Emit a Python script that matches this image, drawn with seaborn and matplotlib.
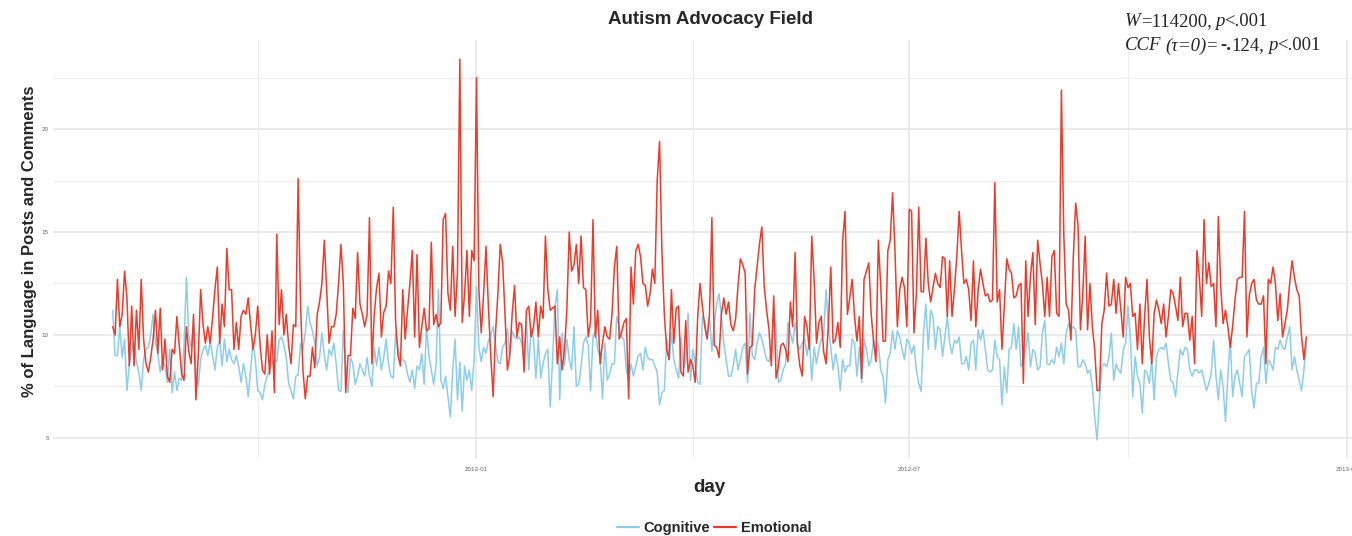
import pandas as pd
import matplotlib
matplotlib.use("Agg")
import matplotlib.pyplot as plt
import matplotlib.dates as mdates
import seaborn as sns

# daily values (% of language), starting 2011-08-01
start_day = "2011-08-01"

cognitive = [
    11.2, 9.0, 9.0, 10.4, 8.9, 9.8, 7.3, 8.6, 9.3, 9.6,
    8.7, 8.2, 7.3, 8.8, 9.3, 9.4, 10.0, 11.0, 9.6, 9.1,
    8.2, 8.8, 8.5, 7.7, 9.3, 7.2, 8.2, 7.3, 7.9, 7.8,
    9.5, 12.8, 10.0, 9.4, 10.5, 8.3, 7.5, 8.8, 9.3, 9.5,
    9.0, 9.7, 9.0, 8.3, 9.4, 9.7, 8.5, 9.8, 8.7, 9.3,
    8.8, 8.6, 9.0, 8.5, 7.7, 8.6, 8.0, 7.0, 8.3, 9.6,
    8.8, 7.3, 7.2, 6.85, 7.6, 8.0, 8.3, 8.6, 8.8, 8.7,
    9.75, 9.9, 9.5, 8.9, 7.65, 7.3, 6.9, 8.0, 8.05, 9.6,
    9.3, 10.1, 11.4, 10.6, 10.2, 9.6, 8.5, 8.9, 10.1, 9.0,
    8.3, 9.3, 9.0, 9.6, 8.6, 7.3, 7.25, 10.2, 8.5, 7.2,
    8.9, 8.6, 7.6, 8.0, 8.6, 8.3, 8.0, 8.9, 8.0, 7.5,
    9.4, 8.5, 9.4, 8.3, 8.9, 9.8, 8.6, 8.0, 7.9, 10.1,
    9.4, 8.9, 8.8, 8.7, 8.1, 7.7, 8.3, 7.4, 8.5,
    8.3, 9.1, 7.6, 10.4, 9.0, 8.3, 7.6, 8.5, 12.2, 7.8,
    7.4, 8.0, 7.0, 6.0, 8.3, 9.8, 6.85, 8.7, 6.3, 8.5,
    7.8, 8.3, 7.3, 8.8, 12.35, 9.4, 8.7, 9.4, 9.1, 9.7,
    10.0, 10.4, 9.5, 8.7, 8.6, 9.4, 9.6, 10.3, 9.0, 10.2,
    9.9, 9.8, 9.9, 9.6, 8.8, 10.7, 8.3, 10.4, 9.8, 7.9,
    9.8, 7.9, 8.6, 9.1, 9.3, 6.5, 8.8, 11.4, 12.2, 6.85,
    10.1, 8.5, 9.8, 8.8, 8.3, 10.4, 7.5, 7.6, 8.5, 9.6,
    9.9, 9.5, 7.3, 9.9, 10.2, 9.3, 8.9, 6.9, 9.6, 7.8,
    8.1, 8.6, 8.6, 10.9, 10.4, 9.9, 9.8, 8.3, 7.8, 8.6,
    8.0, 8.5, 9.0, 9.1, 8.3, 9.4, 8.9, 8.8, 8.8, 8.5,
    8.2, 6.6, 7.2, 7.3, 9.8, 8.8, 10.1, 8.8, 8.3, 7.9,
    9.9, 8.4, 8.7, 11.05, 7.8, 9.3, 8.6, 7.7, 7.6, 10.9,
    10.7, 9.8, 10.9, 9.2, 10.5, 11.5, 12.0, 10.9, 9.6,
    8.8, 8.0, 8.0, 8.5, 9.3, 8.3, 8.8, 9.4, 9.6, 7.7,
    11.05, 9.0, 8.8, 9.6, 10.1, 9.8, 9.3, 8.8, 8.7, 9.3,
    11.0, 10.3, 7.7, 7.8, 8.3, 8.6, 10.6, 10.1, 9.6, 10.6,
    9.6, 9.3, 9.6, 9.8, 9.0, 9.8, 7.8, 9.4, 8.6, 9.3,
    9.8, 10.0, 12.2, 10.4, 9.4, 8.3, 9.1, 8.5, 7.3, 8.8,
    8.2, 8.5, 8.5, 9.8, 9.6, 8.0, 9.4, 7.7, 9.8, 9.3,
    8.5, 8.8, 9.8, 9.0, 9.6, 8.3, 8.0, 6.7, 8.8, 9.1,
    10.2, 9.3, 10.2, 9.9, 9.3, 8.8, 9.8, 9.6, 9.1, 9.5,
    8.3, 7.65, 7.25, 10.1, 11.5, 9.3, 11.2, 10.9, 9.3, 10.4,
    10.25, 8.95, 9.9, 10.9, 9.6, 9.1, 9.75, 9.6, 9.9, 8.6,
    8.6, 8.95, 8.3, 9.6, 9.75, 8.3, 10.25, 9.75, 10.25, 9.3,
    8.3, 8.2, 8.3, 9.75, 8.95, 8.8, 6.6, 8.45, 7.2, 9.3,
    9.4, 10.55, 9.3, 10.4, 8.45, 8.8, 9.3, 10.1, 8.45,
    9.3, 9.1, 8.3, 8.45, 10.1, 10.7, 8.6, 8.55, 8.8, 8.6,
    9.4, 8.95, 9.6, 8.6, 10.1, 10.55, 10.25, 10.4, 10.25, 8.45,
    8.45, 8.8, 8.6, 8.15, 8.3, 7.5, 6.0, 4.9, 6.85, 8.45,
    8.6, 8.45, 8.95, 10.1, 7.8, 8.6, 8.3, 8.15, 9.3, 9.6,
    11.4, 9.9, 7.0, 8.95, 8.0, 7.65, 6.2, 8.3, 8.15, 7.65,
    8.8, 6.85, 8.95, 9.3, 9.4, 9.3, 9.6, 8.6, 7.8, 7.65,
    7.0, 8.2, 9.3, 9.0, 9.4, 9.3, 8.3, 8.0, 8.3, 8.3,
    8.15, 8.3, 7.8, 7.3, 7.65, 8.15, 9.75, 8.0, 6.85, 8.3,
    7.5, 5.8, 8.0, 9.9, 7.0, 8.0, 8.3, 7.65, 7.0,
    8.95, 9.1, 9.3, 7.3, 6.45, 7.65, 7.65, 8.95, 9.4, 7.65,
    8.8, 8.6, 8.3, 9.4, 9.3, 9.75, 9.4, 9.3, 9.9, 10.4,
    8.3, 8.95, 8.3, 7.8, 7.3, 8.3, 9.6,
]

emotional = [
    10.4, 10.0, 12.7, 10.4, 11.0, 13.1, 11.8, 8.5, 11.4, 8.5,
    11.2, 9.3, 12.7, 9.8, 8.6, 8.2, 8.9, 9.8, 11.2, 9.1,
    11.3, 8.3, 9.8, 8.0, 7.7, 9.3, 9.1, 10.9, 9.5, 8.1,
    7.8, 10.4, 9.2, 8.6, 11.0, 6.85, 9.0, 12.2, 10.5, 9.6,
    10.4, 9.6, 10.8, 12.2, 13.3, 9.6, 11.5, 10.4, 14.2, 12.2,
    12.2, 9.3, 10.6, 9.3, 10.9, 11.2, 11.0, 11.8, 10.5, 9.3,
    10.0, 11.4, 9.5, 8.3, 8.1, 10.0, 8.1, 10.2, 7.2, 14.9,
    10.5, 12.2, 10.0, 11.0, 9.5, 8.6, 10.5, 10.4, 17.6, 11.5,
    8.3, 6.9, 8.0, 8.0, 9.4, 8.4, 11.0, 11.6, 12.5, 14.6,
    12.2, 9.6, 10.4, 10.4, 11.0, 12.5, 14.4, 12.5, 7.2, 9.0,
    9.0, 11.3, 10.8, 14.0, 11.5, 11.0, 10.4, 11.0, 15.7, 8.6,
    11.0, 12.3, 13.0, 9.9, 11.1, 11.4, 13.1, 12.5, 16.2, 10.6,
    9.0, 8.5, 12.2, 9.8, 11.2, 12.5, 14.1, 9.9, 13.9,
    9.4, 10.4, 11.3, 10.2, 10.3, 14.5, 10.5, 11.0, 10.4, 10.6,
    15.6, 15.9, 12.0, 11.2, 14.3, 10.9, 13.0, 23.4, 10.6, 12.0,
    14.1, 10.9, 14.1, 13.6, 22.5, 12.2, 10.1, 12.0, 14.3, 11.4,
    9.0, 7.0, 10.1, 12.0, 14.4, 13.5, 11.0, 8.3, 9.0, 11.0,
    12.4, 9.9, 10.6, 10.5, 8.2, 11.2, 11.4, 9.9, 10.4, 11.6,
    9.9, 11.4, 10.8, 14.8, 12.2, 11.2, 11.3, 11.4, 8.6, 9.9,
    8.3, 9.3, 11.2, 15.0, 13.1, 13.4, 14.4, 12.5, 14.8, 12.3,
    12.2, 9.9, 10.7, 15.6, 9.9, 11.2, 8.6, 9.6, 10.4, 9.9,
    9.8, 11.0, 13.3, 14.3, 9.8, 10.1, 10.6, 10.8, 6.9, 13.3,
    11.5, 14.1, 14.4, 13.8, 12.5, 12.4, 11.4, 12.0, 13.2, 12.5,
    17.5, 19.4, 14.0, 11.0, 9.3, 8.8, 12.2, 9.6, 11.3, 11.4,
    8.2, 8.0, 10.7, 8.2, 8.8, 8.5, 7.7, 10.8, 12.5, 11.4,
    10.4, 9.8, 11.0, 15.7, 9.5, 9.4, 8.9, 11.0, 11.8,
    11.0, 11.6, 10.5, 10.2, 10.8, 12.4, 13.7, 13.4, 13.0, 8.1,
    9.4, 9.5, 12.2, 13.3, 14.4, 15.25, 12.4, 11.2, 10.3, 8.5,
    11.9, 7.9, 8.5, 9.5, 9.6, 9.3, 8.7, 11.6, 10.4, 14.0,
    9.5, 8.5, 8.0, 10.9, 10.4, 9.3, 14.8, 12.7, 9.6, 10.6,
    10.9, 9.2, 8.6, 10.5, 13.3, 9.6, 9.8, 10.6, 9.4, 14.6,
    16.0, 11.0, 11.8, 12.7, 10.9, 9.7, 10.9, 7.9, 12.7, 13.1,
    13.5, 11.0, 9.7, 8.7, 14.6, 12.4, 9.7, 9.7, 14.1, 14.6,
    16.9, 14.1, 10.4, 12.2, 12.8, 12.3, 10.4, 16.1, 16.0, 10.1,
    12.0, 16.2, 12.1, 12.1, 14.7, 12.5, 11.6, 12.3, 13.0, 12.5,
    12.3, 13.8, 13.7, 10.9, 13.6, 10.9, 12.2, 13.8, 16.0, 14.1,
    12.5, 12.7, 12.2, 10.7, 13.6, 10.4, 12.2, 13.2, 12.5, 11.9,
    12.0, 11.6, 11.7, 17.4, 11.6, 12.2, 9.3, 11.4, 13.7, 13.2,
    13.0, 11.8, 11.9, 12.4, 12.5, 7.65, 13.6, 10.9, 12.9,
    14.0, 10.5, 14.6, 13.5, 12.5, 10.9, 12.8, 10.9, 13.8, 14.1,
    11.05, 10.9, 21.9, 14.9, 11.5, 11.2, 9.75, 13.8, 16.4, 15.3,
    10.25, 12.0, 14.8, 10.25, 12.5, 10.4, 9.3, 7.3, 7.3, 10.55,
    11.2, 13.0, 11.4, 11.5, 12.7, 11.05, 12.5, 11.2, 9.9, 12.8,
    12.3, 12.5, 10.9, 11.05, 9.3, 11.5, 8.6, 10.9, 12.7, 9.9,
    8.6, 11.05, 11.7, 11.2, 10.55, 11.5, 9.9, 10.9, 12.2, 12.0,
    11.4, 10.7, 12.8, 10.4, 11.05, 11.05, 9.75, 10.9, 8.6, 14.1,
    12.8, 10.9, 15.6, 12.5, 13.5, 12.35, 12.5, 10.4, 15.75, 12.35,
    10.55, 11.2, 10.4, 9.4, 10.4, 11.7, 12.7, 12.8, 12.8,
    16.0, 9.9, 11.9, 12.5, 12.7, 11.7, 11.5, 11.5, 11.9, 8.6,
    12.7, 12.5, 13.3, 12.5, 10.7, 12.0, 9.9, 10.55, 11.2, 12.5,
    13.6, 12.8, 12.2, 11.9, 9.9, 8.8, 9.9,
]

series_names = ["Cognitive", "Emotional"]
colors = {"Cognitive": "#8DCDEA", "Emotional": "#EC3B2A"}

days = pd.date_range(start_day, periods=len(cognitive), freq="D")
df = pd.DataFrame({"day": days, "Cognitive": cognitive, "Emotional": emotional})
df = df.melt(id_vars="day", var_name="type", value_name="pct")

sns.set_style("white")
plt.rcParams["font.family"] = ["Liberation Sans", "DejaVu Sans"]

W, H = 1352, 536
fig = plt.figure(figsize=(W / 100, H / 100), dpi=100)
ax = fig.add_axes([53 / W, 1 - 459 / H, 1313 / W, 419 / H])

sns.lineplot(data=df, x="day", y="pct", hue="type", hue_order=series_names,
             palette=colors, linewidth=1.1, ax=ax)

# ggplot-like 5% expansion
span = days[-1] - days[0]
ax.set_xlim(days[0] - span * 0.05, days[-1] + span * 0.05)
lo, hi = df["pct"].min(), df["pct"].max()
ax.set_ylim(lo - (hi - lo) * 0.05, hi + (hi - lo) * 0.05)

ax.xaxis.set_major_locator(mdates.MonthLocator(bymonth=[1, 7]))
ax.xaxis.set_major_formatter(mdates.DateFormatter("%Y-%m"))
ax.xaxis.set_minor_locator(mdates.MonthLocator(bymonth=[4, 10]))
ax.set_yticks([5, 10, 15, 20])
ax.set_yticks([7.5, 12.5, 17.5, 22.5], minor=True)

ax.set_axisbelow(True)
ax.grid(which="major", color="#E6E6E6", linewidth=1.2)
ax.grid(which="minor", color="#EEEEEE", linewidth=0.8)
ax.tick_params(which="both", length=0, labelsize=4.5, labelcolor="#666666")
ax.tick_params(axis="x", pad=6)
ax.tick_params(axis="y", pad=3)
for s in ax.spines.values():
    s.set_visible(False)

ax.set_xlabel("day", fontsize=13.5, fontweight="bold")
ax.xaxis.set_label_coords(0.5, -0.048)
ax.set_ylabel("% of Language in Posts and Comments", fontsize=12, fontweight="bold")
ax.yaxis.set_label_coords(-0.012, 0.52)

fig.text(711 / W, 1 - 20 / H, "Autism Advocacy Field", ha="center", va="center",
         fontsize=13.5, fontweight="bold")

handles, labels = ax.get_legend_handles_labels()
ax.get_legend().remove()
leg = fig.legend(handles, labels, loc="center", bbox_to_anchor=(714 / W, 1 - 528 / H),
                 ncol=2, frameon=False, handlelength=1.5, handletextpad=0.3,
                 columnspacing=0.3, prop={"weight": "bold", "size": 10.5})
for line in leg.get_lines():
    line.set_linewidth(1.6)

# test statistics in the upper right, written as styled runs
renderer = fig.canvas.get_renderer()
space = 3.5  # px


def write_runs(x_px, y_px, parts):
    for txt, style, weight in parts:
        if txt == " ":
            x_px += space
            continue
        t = fig.text(x_px / W, 1 - y_px / H, txt, ha="left", va="center",
                     fontsize=13.5, family="Liberation Serif", style=style,
                     fontweight=weight)
        x_px += t.get_window_extent(renderer).width


write_runs(1125, 22, [("W", "italic", "normal"), ("=114200,", "normal", "normal"),
                      (" ", "", ""), ("p", "italic", "normal"),
                      ("<.001", "normal", "normal")])
write_runs(1125, 46, [("CCF", "italic", "normal"), (" ", "", ""),
                      ("(τ=0)", "italic", "normal"), ("=", "normal", "normal"),
                      (" ", "", ""), ("-.", "normal", "bold"),
                      ("124,", "normal", "normal"), (" ", "", ""),
                      ("p", "italic", "normal"), ("<.001", "normal", "normal")])

fig.savefig("out.png", dpi=100)
